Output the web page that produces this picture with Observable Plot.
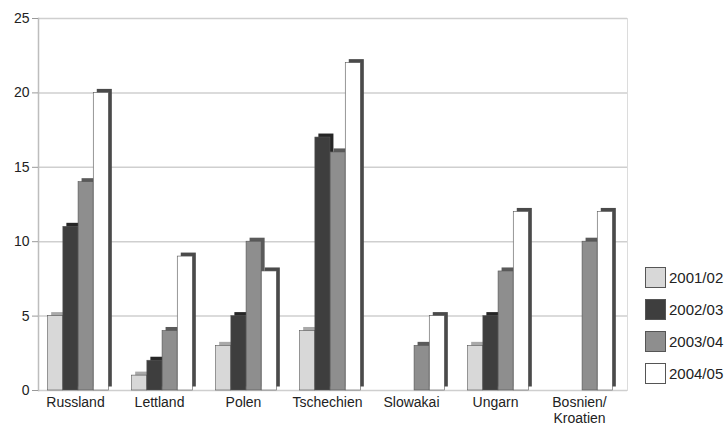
<!DOCTYPE html>
<html>
<head>
<meta charset="utf-8">
<script src="https://cdn.jsdelivr.net/npm/d3@7"></script>
<script src="https://cdn.jsdelivr.net/npm/@observablehq/plot@0.6"></script>
<style>
  html, body { margin: 0; padding: 0; background: #fff; }
  #wrap { position: relative; width: 726px; height: 433px; font-family: "Liberation Sans", Arial, sans-serif; }
  #wrap svg { display: block; }
  #legend { position: absolute; left: 645px; top: 267px; }
  .item { display: flex; align-items: center; height: 21px; margin-bottom: 11px; font-size: 15px; color: #222; }
  .sw { width: 21px; height: 21px; border: 1px solid #555; box-sizing: border-box; margin-right: 3px; }
</style>
</head>
<body>
<div id="wrap"><div id="legend"></div></div>
<script>
const categories = ["Russland", "Lettland", "Polen", "Tschechien", "Slowakai", "Ungarn", "Bosnien/\nKroatien"];
const seasons = ["2001/02", "2002/03", "2003/04", "2004/05"];
const v2001 = [5, 1, 3, 4, 0, 3, 0];
const v2002 = [11, 2, 5, 17, 0, 5, 0];
const v2003 = [14, 4, 10, 16, 3, 8, 10];
const v2004 = [20, 9, 8, 22, 5, 12, 12];
const yTicks = [0, 5, 10, 15, 20, 25];

const fronts = ["#d8d8d8", "#3e3e3e", "#8e8e8e", "#ffffff"];
const sides = ["#a9a9a9", "#262626", "#5a5a5a", "#4a4a4a"];
const seriesValues = [v2001, v2002, v2003, v2004];

const W = 726, H = 433, ML = 38, MR = 99, MT = 18, MB = 43;
const band = (W - ML - MR) / categories.length;
const barW = 15.2;
const inset = (band - barW) / 2;
const depth = 3.5;

const data = categories.flatMap((c, i) => seasons.map((s, j) => ({category: c, season: s, value: seriesValues[j][i]})));

const barMarks = [];
seasons.forEach((s, j) => {
  const rows = data.filter(d => d.season === s);
  const off = (j - 1.5) * barW - 3;
  barMarks.push(Plot.barY(rows, {x: "category", y: "value", fill: sides[j], insetLeft: inset, insetRight: inset, dx: off + depth, dy: -depth}));
  barMarks.push(Plot.barY(rows, {x: "category", y: "value", fill: fronts[j], stroke: "#555", strokeWidth: 0.6, insetLeft: inset, insetRight: inset, dx: off}));
});

const chart = Plot.plot({
  width: W,
  height: H,
  marginLeft: ML,
  marginRight: MR,
  marginTop: MT,
  marginBottom: MB,
  style: {fontFamily: "'Liberation Sans', Arial, sans-serif", fontSize: "14px", color: "#222", background: "transparent"},
  x: {domain: categories, padding: 0, label: null},
  y: {domain: [0, 25], label: null},
  marks: [
    Plot.ruleY(yTicks, {stroke: "#cfcfcf", strokeWidth: 1.5}),
    Plot.frame({anchor: "left", stroke: "#bdbdbd", strokeWidth: 1.5}),
    Plot.frame({anchor: "right", stroke: "#dcdcdc", strokeWidth: 1}),
    Plot.axisY({ticks: yTicks, tickSize: 6, tickPadding: 3, stroke: "#999", label: null, fontSize: 14}),
    Plot.axisX({tickSize: 0, tickPadding: 6, dx: -6, label: null, lineHeight: 1.1, fontSize: 14}),
    ...barMarks
  ]
});
document.getElementById("wrap").prepend(chart);

const legend = document.getElementById("legend");
seasons.forEach((s, j) => {
  const it = document.createElement("div");
  it.className = "item";
  const sw = document.createElement("div");
  sw.className = "sw";
  sw.style.background = fronts[j];
  it.appendChild(sw);
  it.appendChild(document.createTextNode(s));
  legend.appendChild(it);
});
</script>
</body>
</html>
